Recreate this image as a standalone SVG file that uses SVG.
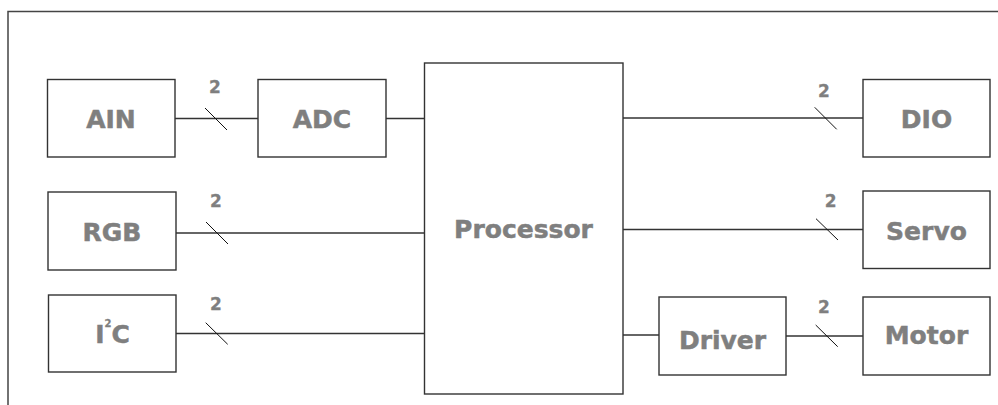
<svg xmlns="http://www.w3.org/2000/svg" width="998" height="405" viewBox="0 0 998 405">
<style>
.box{fill:#fff;stroke:#333;stroke-width:1.4}
.lbl{font-family:"DejaVu Sans",sans-serif;font-weight:bold;font-size:25px;fill:#7f7f7f;stroke:#7f7f7f;stroke-width:0.5;text-anchor:middle}
.num{font-family:"DejaVu Sans",sans-serif;font-weight:bold;font-size:17px;fill:#7f7f7f;stroke:#7f7f7f;stroke-width:0.3;text-anchor:middle}
.wire{stroke:#333;stroke-width:1.3;fill:none}
.tick{stroke:#111;stroke-width:1;fill:none}
.frame{stroke:#444;stroke-width:1.5;fill:none}
</style>
<rect width="998" height="405" fill="#fff"/>
<path class="frame" d="M8 405 V11.5 H998"/>
<g id="connectors">
<line class="wire" x1="175" y1="118.5" x2="258" y2="118.5"/>
<line class="tick" x1="205" y1="108" x2="227" y2="130"/>
<text class="num" x="215" y="92.5">2</text>
<line class="wire" x1="386" y1="118.5" x2="424" y2="118.5"/>
<line class="wire" x1="176" y1="233" x2="424" y2="233"/>
<line class="tick" x1="206" y1="222" x2="228" y2="244"/>
<text class="num" x="216" y="207">2</text>
<line class="wire" x1="176" y1="333.5" x2="424" y2="333.5"/>
<line class="tick" x1="205.7" y1="322.7" x2="227.7" y2="344.3"/>
<text class="num" x="216" y="309.5">2</text>
<line class="wire" x1="623" y1="118" x2="863" y2="118"/>
<line class="tick" x1="814.7" y1="107.3" x2="836.7" y2="129.3"/>
<text class="num" x="824" y="96.5">2</text>
<line class="wire" x1="623" y1="229.5" x2="863" y2="229.5"/>
<line class="tick" x1="816" y1="218.7" x2="838" y2="240"/>
<text class="num" x="830.7" y="207">2</text>
<line class="wire" x1="623" y1="335" x2="659" y2="335"/>
<line class="wire" x1="786" y1="336" x2="863" y2="336"/>
<line class="tick" x1="815.7" y1="325" x2="837.7" y2="346.7"/>
<text class="num" x="824" y="313">2</text>
</g>
<g id="ain"><rect class="box" x="47.5" y="79.5" width="127.5" height="77.5"/><text class="lbl" x="111" y="128">AIN</text></g>
<g id="adc"><rect class="box" x="258" y="79.5" width="128" height="77.5"/><text class="lbl" x="322" y="128">ADC</text></g>
<g id="rgb"><rect class="box" x="48" y="192" width="128" height="78"/><text class="lbl" x="112" y="241">RGB</text></g>
<g id="i2c"><rect class="box" x="48.5" y="295" width="127.5" height="77"/><text class="lbl" x="112.5" y="343">I<tspan font-size="10" stroke-width="0.3" dy="-16">2</tspan><tspan dy="16">C</tspan></text></g>
<g id="processor"><rect class="box" x="424.5" y="63" width="198.5" height="331"/><text class="lbl" x="523.5" y="238">Processor</text></g>
<g id="dio"><rect class="box" x="863" y="79.5" width="127" height="77.5"/><text class="lbl" x="926.5" y="128">DIO</text></g>
<g id="servo"><rect class="box" x="863" y="191" width="127" height="77.5"/><text class="lbl" x="926.5" y="240">Servo</text></g>
<g id="driver"><rect class="box" x="659" y="297" width="127" height="78"/><text class="lbl" x="722.5" y="349">Driver</text></g>
<g id="motor"><rect class="box" x="863" y="297" width="127" height="78"/><text class="lbl" x="926.5" y="344">Motor</text></g>
</svg>
